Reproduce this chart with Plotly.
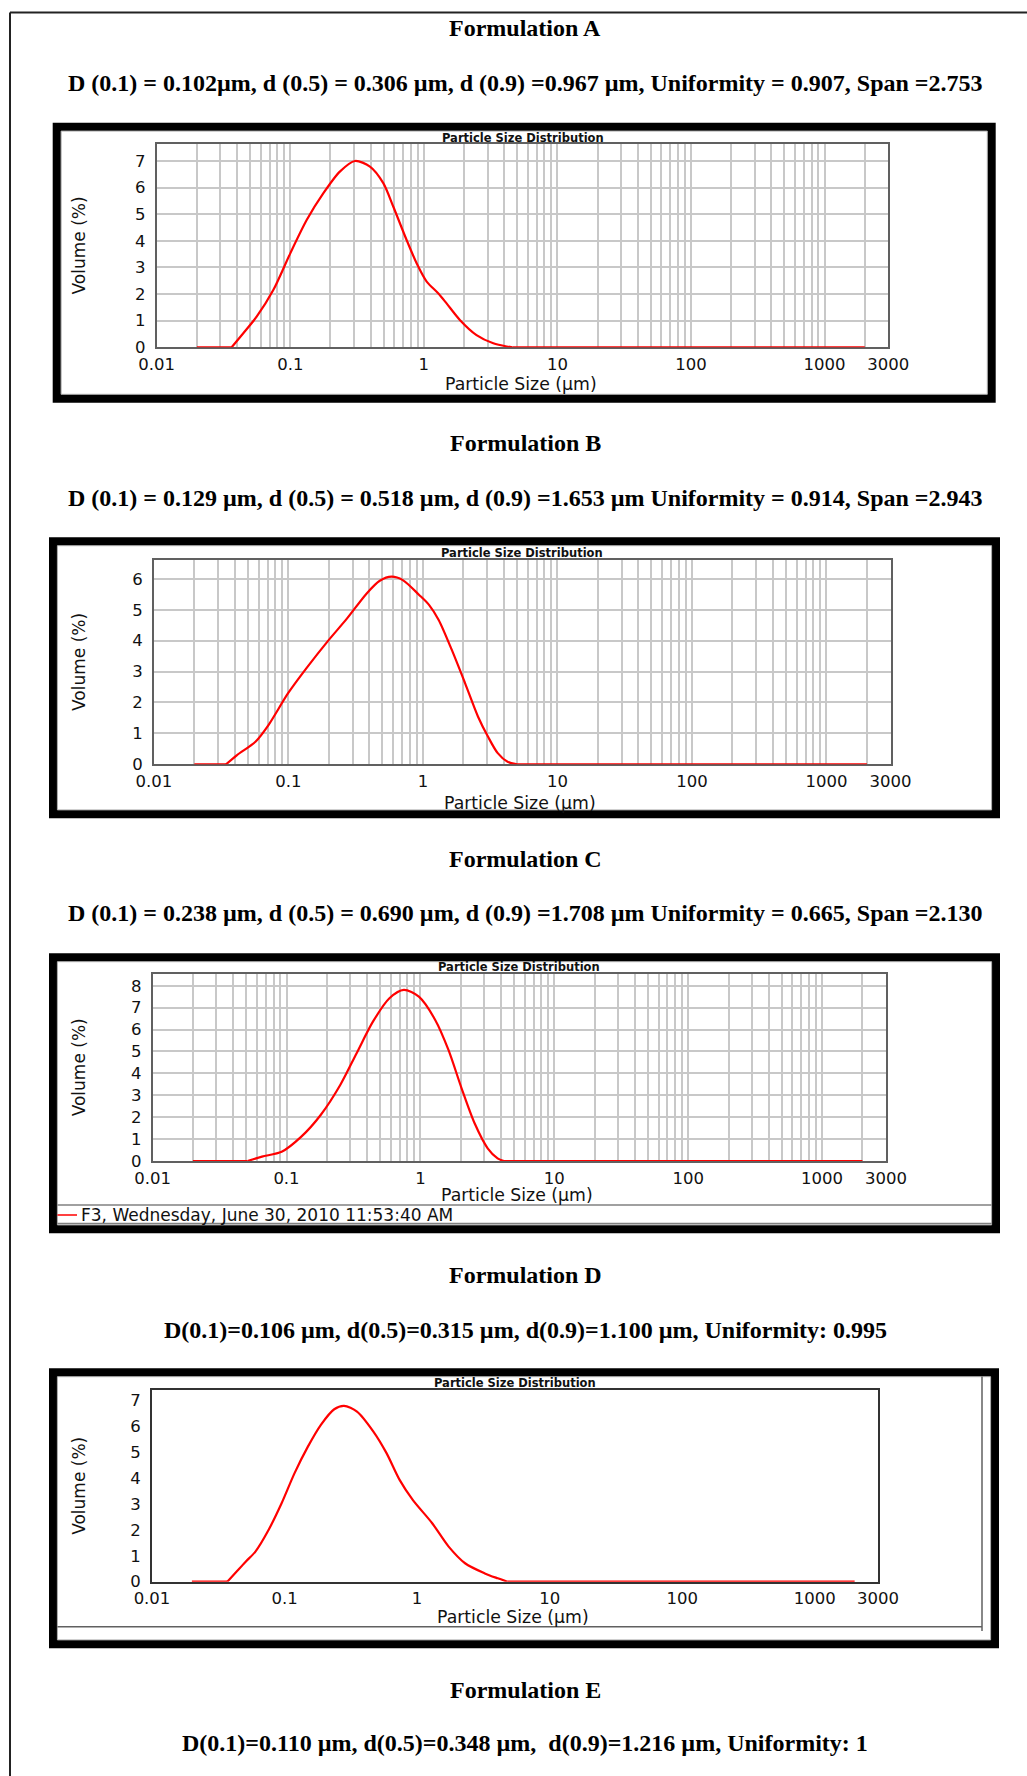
import math
import plotly.graph_objects as go

# ---------------- data ----------------
formulation_titles = ["Formulation A", "Formulation B", "Formulation C",
                      "Formulation D", "Formulation E"]
stats_lines = [
    "D (0.1) = 0.102µm, d (0.5) = 0.306 µm, d (0.9) =0.967 µm, Uniformity = 0.907, Span =2.753",
    "D (0.1) = 0.129 µm, d (0.5) = 0.518 µm, d (0.9) =1.653 µm Uniformity = 0.914, Span =2.943",
    "D (0.1) = 0.238 µm, d (0.5) = 0.690 µm, d (0.9) =1.708 µm Uniformity = 0.665, Span =2.130",
    "D(0.1)=0.106 µm, d(0.5)=0.315 µm, d(0.9)=1.100 µm, Uniformity: 0.995",
    "D(0.1)=0.110 µm, d(0.5)=0.348 µm,\u00a0 d(0.9)=1.216 µm, Uniformity: 1",
]

size_A = [0.02, 0.0364, 0.0445, 0.056, 0.0746, 0.1, 0.133, 0.177, 0.235, 0.305,
          0.395, 0.497, 0.59, 0.743, 0.883, 1.05, 1.28, 1.48, 1.86, 2.48, 3.31,
          4.17, 4.6, 2000]
vol_A = [0, 0, 0.53, 1.15, 2.15, 3.53, 4.79, 5.79, 6.60, 7.0,
         6.79, 6.17, 5.29, 4.03, 3.16, 2.47, 2.03, 1.65, 1.03, 0.46, 0.15,
         0.03, 0, 0]

size_B = [0.02, 0.0344, 0.0415, 0.0569, 0.0711, 0.0995, 0.139, 0.195, 0.273,
          0.382, 0.478, 0.585, 0.709, 0.938, 1.11, 1.31, 1.64, 2.06, 2.57,
          3.05, 3.60, 4.26, 5.0, 2000]
vol_B = [0, 0, 0.30, 0.73, 1.27, 2.30, 3.16, 3.97, 4.72,
         5.53, 5.94, 6.07, 5.96, 5.48, 5.16, 4.67, 3.70, 2.62, 1.54,
         0.89, 0.36, 0.08, 0, 0]

size_C = [0.02, 0.0512, 0.0656, 0.092, 0.129, 0.180, 0.252, 0.334, 0.442,
          0.587, 0.752, 0.974, 1.29, 1.62, 2.03, 2.54, 3.18, 3.77, 4.2, 2000]
vol_C = [0, 0, 0.20, 0.42, 1.11, 2.10, 3.47, 4.92, 6.36,
         7.43, 7.81, 7.50, 6.44, 5.07, 3.32, 1.72, 0.58, 0.12, 0, 0]

size_D = [0.02, 0.037, 0.0509, 0.0603, 0.0757, 0.095, 0.119, 0.150, 0.188,
          0.237, 0.281, 0.352, 0.468, 0.588, 0.738, 0.927, 1.30, 1.73, 2.30,
          3.24, 4.06, 4.81, 2000]
vol_D = [0, 0, 0.77, 1.16, 1.99, 3.02, 4.18, 5.20, 6.04,
         6.64, 6.77, 6.55, 5.78, 4.95, 3.92, 3.15, 2.25, 1.35, 0.71,
         0.32, 0.13, 0, 0]

legend_C = "F3, Wednesday, June 30, 2010 11:53:40 AM"

x_major_ticks = [0.01, 0.1, 1, 10, 100, 1000, 3000]
x_major_labels = ["0.01", "0.1", "1", "10", "100", "1000", "3000"]
x_minor_ticks = [m * 10 ** e for e in range(-2, 3) for m in range(2, 10)] + [2000]

chart_title = "Particle Size Distribution"
x_title = "Particle Size (µm)"
y_title = "Volume (%)"

# ---------------- layout helpers ----------------
W, H = 1027, 1776


def fx(p):
    return p / W


def fy(p):
    return 1 - p / H


def segmented(xs, ys):
    """Split a distribution into flat lead-in, curved body and flat tail
    so that the smoothed body never bends below the zero baseline."""
    n = len(ys)
    i0 = 0
    while i0 + 1 < n and ys[i0 + 1] == 0:
        i0 += 1
    i1 = n - 1
    while i1 - 1 > 0 and ys[i1 - 1] == 0:
        i1 -= 1
    ox = list(xs[:i0 + 1]) + [None] + list(xs[i0:i1 + 1]) + [None] + list(xs[i1:])
    oy = list(ys[:i0 + 1]) + [None] + list(ys[i0:i1 + 1]) + [None] + list(ys[i1:])
    return ox, oy


SERIF = "Liberation Serif, Times New Roman, serif"
SANS = "DejaVu Sans, Verdana, sans-serif"
RED = "#ff0000"

# pixel geometry for every panel: plot box (left, right, top, bottom), y max,
# black frame box, title / x-title centre rows, whether grid is drawn
panels = [
    dict(xs=size_A, ys=vol_A, plot=(156.7, 888.3, 143.7, 347.3), ymax=7.65,
         frame=(52.7, 995.7, 122.7, 402.7), t_y=137.5, xt_y=384.0, grid=True),
    dict(xs=size_B, ys=vol_B, plot=(153.9, 890.6, 559.7, 764.3), ymax=6.62,
         frame=(49.0, 1000.0, 537.3, 818.3), t_y=553.3, xt_y=802.7, grid=True),
    dict(xs=size_C, ys=vol_C, plot=(152.6, 886.0, 973.7, 1161.0), ymax=8.55,
         frame=(49.0, 1000.0, 953.3, 1233.3), t_y=967.3, xt_y=1195.0, grid=True),
    dict(xs=size_D, ys=vol_D, plot=(152.0, 878.0, 1390.0, 1581.7), ymax=7.38,
         frame=(49.0, 999.0, 1368.3, 1648.3), t_y=1382.5, xt_y=1616.7, grid=False),
]

heading_rows = [(28.3, 83.3), (443.3, 498.3), (859.3, 913.3),
                (1275.0, 1330.0), (1690.0, 1743.3)]

fig = go.Figure()
layout = dict(template="none", width=W, height=H, margin=dict(l=0, r=0, t=0, b=0),
              paper_bgcolor="white", plot_bgcolor="rgba(0,0,0,0)",
              showlegend=False)
shapes = []
annotations = []

# page border (top and left edges)
shapes.append(dict(type="line", xref="paper", yref="paper", x0=fx(10), x1=1.0,
                   y0=fy(12.5), y1=fy(12.5), line=dict(color="#222", width=2)))
shapes.append(dict(type="line", xref="paper", yref="paper", x0=fx(10), x1=fx(10),
                   y0=fy(12.5), y1=0.0, line=dict(color="#222", width=2)))

# headings
for title, stats, (ty, sy) in zip(formulation_titles, stats_lines, heading_rows):
    annotations.append(dict(text=f"<b>{title}</b>", xref="paper", yref="paper",
                            x=fx(525), y=fy(ty), xanchor="center", yanchor="middle",
                            showarrow=False, font=dict(family=SERIF, size=24, color="black")))
    annotations.append(dict(text=f"<b>{stats}</b>", xref="paper", yref="paper",
                            x=fx(525), y=fy(sy), xanchor="center", yanchor="middle",
                            showarrow=False, font=dict(family=SERIF, size=24, color="black")))

BW = 8.4  # frame thickness
for i, p in enumerate(panels, start=1):
    sfx = "" if i == 1 else str(i)
    left, right, top, bottom = p["plot"]
    f0, f1, g0, g1 = p["frame"]

    # black frame with white interior
    shapes.append(dict(type="rect", xref="paper", yref="paper", layer="below",
                       x0=fx(f0), x1=fx(f1), y0=fy(g1), y1=fy(g0),
                       fillcolor="black", line=dict(width=0)))
    shapes.append(dict(type="rect", xref="paper", yref="paper", layer="below",
                       x0=fx(f0 + BW), x1=fx(f1 - BW), y0=fy(g1 - BW), y1=fy(g0 + BW),
                       fillcolor="white", line=dict(color="#b0b0b0", width=1)))

    sx, sy = segmented(p["xs"], p["ys"])
    fig.add_trace(go.Scatter(
        x=sx, y=sy, mode="lines", connectgaps=False, cliponaxis=False,
        line=dict(color=RED, width=2.2, shape="spline", smoothing=0.8),
        xaxis=f"x{i}", yaxis=f"y{i}", hoverinfo="skip",
        name=legend_C if i == 3 else ""))

    grid = p["grid"]
    frame_col = "#606060" if grid else "#333333"
    common = dict(showline=True, mirror=True, linecolor=frame_col, linewidth=1.8,
                  zeroline=False, ticks="", automargin=False, layer="below traces",
                  tickfont=dict(family=SANS, size=16.5, color="#111"), fixedrange=True,
                  showgrid=grid, gridcolor="#c8c8c8", gridwidth=1.5)
    layout[f"xaxis{sfx}"] = dict(
        domain=[fx(left), fx(right)], anchor=f"y{i}", type="log",
        range=[-2, math.log10(3000)], tickmode="array",
        tickvals=x_major_ticks, ticktext=x_major_labels,
        minor=dict(tickmode="array", tickvals=x_minor_ticks, showgrid=grid,
                   gridcolor="#c8c8c8", gridwidth=1.5, ticks=""),
        ticklabelstandoff=1, **common)
    layout[f"yaxis{sfx}"] = dict(
        domain=[fy(bottom), fy(top)], anchor=f"x{i}", range=[0, p["ymax"]],
        dtick=1, tick0=0, ticklabelstandoff=6, **common)

    cx = (left + right) / 2
    annotations.append(dict(text=f"<b>{chart_title}</b>", xref="paper", yref="paper",
                            x=fx(cx), y=fy(p["t_y"]), xanchor="center", yanchor="middle",
                            showarrow=False, font=dict(family=SANS, size=11.5, color="#111")))
    annotations.append(dict(text=x_title, xref="paper", yref="paper",
                            x=fx(cx - 2), y=fy(p["xt_y"]), xanchor="center", yanchor="middle",
                            showarrow=False, font=dict(family=SANS, size=17.3, color="#111")))
    annotations.append(dict(text=y_title, xref="paper", yref="paper", textangle=-90,
                            x=fx(79), y=fy((top + bottom) / 2), xanchor="center",
                            yanchor="middle", showarrow=False,
                            font=dict(family=SANS, size=17, color="#111")))

# legend strip of chart C
shapes.append(dict(type="line", xref="paper", yref="paper", x0=fx(57.4), x1=fx(991.6),
                   y0=fy(1205), y1=fy(1205), line=dict(color="#808080", width=1.5)))
shapes.append(dict(type="line", xref="paper", yref="paper", x0=fx(57.4), x1=fx(991.6),
                   y0=fy(1223.5), y1=fy(1223.5), line=dict(color="#808080", width=1.5)))
shapes.append(dict(type="line", xref="paper", yref="paper", x0=fx(57.4), x1=fx(77),
                   y0=fy(1215), y1=fy(1215), line=dict(color=RED, width=1.5)))
annotations.append(dict(text=legend_C, xref="paper", yref="paper", x=fx(78.5), y=fy(1214.5),
                        xanchor="left", yanchor="middle", showarrow=False,
                        font=dict(family=SANS, size=17, color="#111")))

# empty legend strip of chart D
shapes.append(dict(type="line", xref="paper", yref="paper", x0=fx(57.4), x1=fx(982),
                   y0=fy(1626.7), y1=fy(1626.7), line=dict(color="#606060", width=1.5)))
shapes.append(dict(type="line", xref="paper", yref="paper", x0=fx(982), x1=fx(982),
                   y0=fy(1376.5), y1=fy(1631), line=dict(color="#606060", width=1.5)))

layout["shapes"] = shapes
layout["annotations"] = annotations
fig.update_layout(**layout)
fig.write_html("out.html")
